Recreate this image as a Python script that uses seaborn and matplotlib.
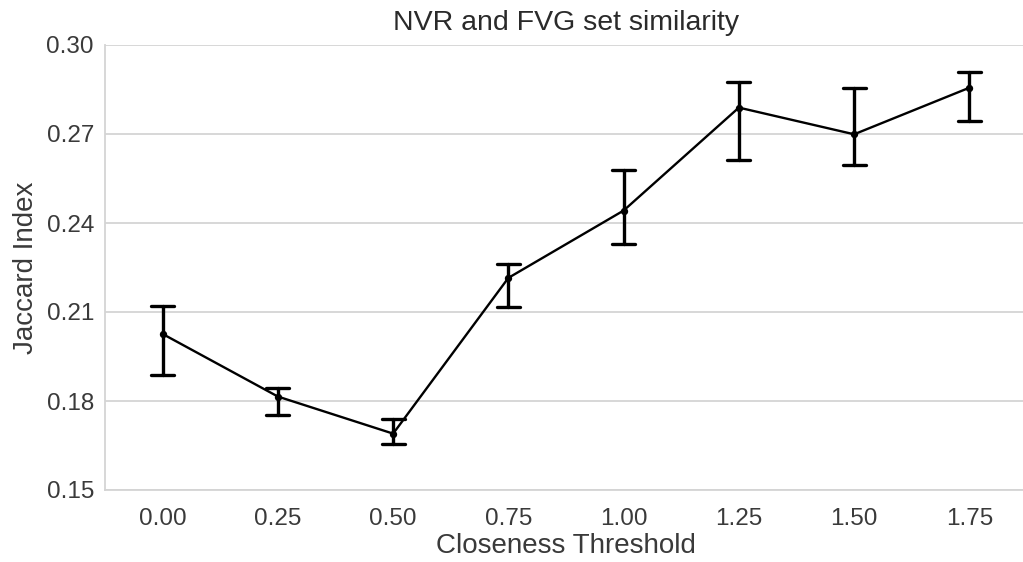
import matplotlib
matplotlib.use("Agg")
import matplotlib.pyplot as plt
import seaborn as sns
import pandas as pd

thresholds = ["0.00", "0.25", "0.50", "0.75", "1.00", "1.25", "1.50", "1.75"]
jaccard_mean = [0.2026, 0.1815, 0.1690, 0.2215, 0.2442, 0.2789, 0.2699, 0.2856]
jaccard_low = [0.1888, 0.1753, 0.1655, 0.2117, 0.2329, 0.2612, 0.2595, 0.2745]
jaccard_high = [0.2121, 0.1843, 0.1738, 0.2262, 0.2579, 0.2876, 0.2854, 0.2910]

rows = []
for t, lo, m, hi in zip(thresholds, jaccard_low, jaccard_mean, jaccard_high):
    for v in (lo, m, hi):
        rows.append({"Closeness Threshold": t, "Jaccard Index": v})
df = pd.DataFrame(rows)

sns.set_theme(style="whitegrid")
plt.rcParams["font.family"] = ["Liberation Sans", "DejaVu Sans"]

fig = plt.figure(figsize=(10.23, 5.62), dpi=100)
ax = fig.add_axes([105 / 1023, 1 - 490 / 562, (1027 - 105) / 1023, (490 - 45) / 562])

sns.pointplot(
    data=df, x="Closeness Threshold", y="Jaccard Index", order=thresholds,
    estimator="median", errorbar=lambda v: (min(v), max(v)),
    color="black", capsize=0.2, markersize=4, linewidth=1.7,
    err_kws={"linewidth": 2.4}, ax=ax,
)

ax.set_ylim(0.15, 0.30)
ax.set_yticks([0.15, 0.18, 0.21, 0.24, 0.27, 0.30])
ax.set_yticklabels(["0.15", "0.18", "0.21", "0.24", "0.27", "0.30"])
ax.set_xlim(-0.5, 7.5)
ax.tick_params(labelsize=17.5, colors="#3a3a3a")
ax.tick_params(axis="x", pad=7)
ax.tick_params(axis="y", pad=2)
ax.set_xlabel("Closeness Threshold", fontsize=20, color="#3a3a3a", labelpad=2)
ax.set_ylabel("Jaccard Index", fontsize=20, color="#3a3a3a", labelpad=5)
ax.set_title("NVR and FVG set similarity", fontsize=20.5, color="#2a2a2a", pad=11)
ax.grid(axis="x", visible=False)
ax.grid(axis="y", color="#d4d4d4", linewidth=1.3)
for s in ["top", "right"]:
    ax.spines[s].set_visible(False)
for s in ["left", "bottom"]:
    ax.spines[s].set_color("#d4d4d4")
    ax.spines[s].set_linewidth(1.3)

fig.savefig("out.png", dpi=100)
